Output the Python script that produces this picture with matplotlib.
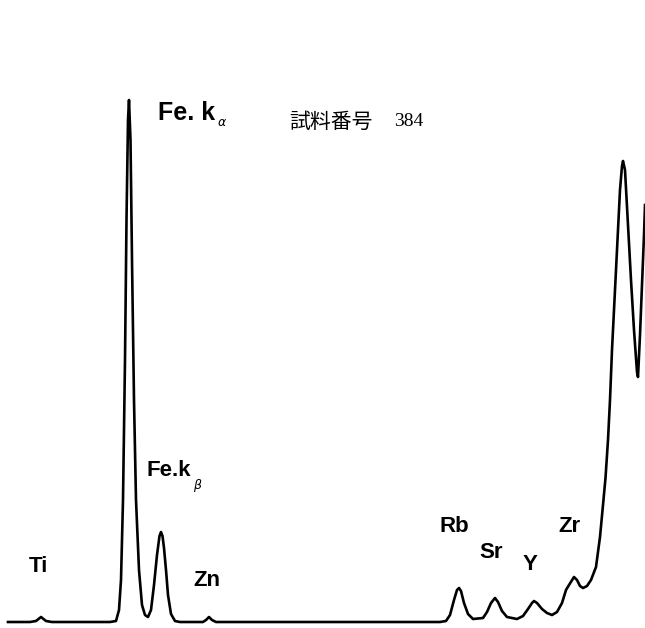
import matplotlib
matplotlib.use('Agg')
import matplotlib.pyplot as plt
import numpy as np

# XRF trace of sample 384 (channel, intensity)
channel = [8, 30, 36, 41, 46, 52, 110, 116, 119, 121, 123, 125, 126.5, 128, 129,
           130.5, 132, 134, 136, 139, 142, 145, 148, 151, 154, 157, 159.5, 161,
           162.5, 164, 166, 168, 171, 175, 180, 203, 206, 209, 212, 216, 440, 446,
           450, 454, 457, 459, 461, 464, 468, 473, 483, 487, 491, 495, 498, 502,
           507, 517, 523, 528, 532, 534, 537, 542, 547, 552, 557, 562, 566, 569,
           574, 577, 580, 583, 587, 591, 596, 600, 603, 605.5, 608, 610, 612, 615,
           618, 620, 622, 623, 625, 628, 631, 634, 637, 638, 640, 642, 644, 645]
intensity = [6, 6, 7, 11, 7, 6, 6, 7, 18, 48, 128, 268, 408, 508, 528,
             488, 368, 228, 128, 58, 23, 13, 11, 18, 43, 73, 92, 96,
             92, 80, 58, 33, 14, 7, 6, 6, 8, 11, 8, 6, 6, 7,
             13, 28, 38, 40, 37, 25, 14, 9, 10, 16, 25, 30, 26, 17,
             11, 9, 12, 19, 25, 27, 25, 19, 15, 13, 16, 25, 38, 43,
             51, 48, 42, 40, 42, 48, 61, 91, 123, 150, 188, 228, 278, 338,
             398, 438, 462, 467, 458, 403, 348, 298, 256, 251, 293, 343, 393, 423]

# element labels: text, channel, height
labels = ['Ti', 'Zn', 'Rb', 'Sr', 'Y', 'Zr']
label_x = [38, 207, 454, 491, 530, 569]
label_y = [61, 47, 101, 75, 64, 101]

fig = plt.figure(figsize=(6.45, 6.28), dpi=100)
ax = fig.add_axes([0, 0, 1, 1])
ax.plot(channel, intensity, color='black', lw=1.9, solid_joinstyle='round')
ax.set_xlim(0, 645)
ax.set_ylim(0, 628)
ax.axis('off')

lab_font = dict(family='Liberation Sans', fontweight='bold', fontsize=16,
                ha='center', va='center')
for t, x, y in zip(labels, label_x, label_y):
    ax.text(x, y, t, **lab_font)

# Fe K lines
ax.text(158, 515, 'Fe. k', family='Liberation Sans', fontweight='bold',
        fontsize=18, ha='left', va='center')
ax.text(217, 506, r'$\alpha$', fontsize=9, ha='left', va='center')
ax.text(147, 158, 'Fe.k', family='Liberation Sans', fontweight='bold',
        fontsize=16, ha='left', va='center')
ax.text(193, 143, r'$\beta$', fontsize=9, ha='left', va='center')

# sample number
ax.text(289, 506, '試料番号', family=['Noto Sans CJK JP', 'DejaVu Sans'],
        fontsize=15, ha='left', va='center')
ax.text(394, 506, '384', family='Liberation Serif', fontsize=14,
        ha='left', va='center')

fig.savefig('out.png', dpi=100, facecolor='white')
